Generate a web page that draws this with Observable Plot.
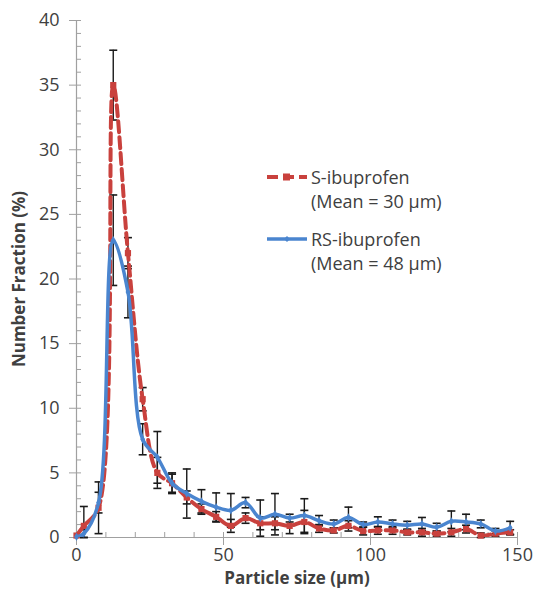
<!DOCTYPE html>
<html>
<head>
<meta charset="utf-8">
<script src="https://cdn.jsdelivr.net/npm/d3@7"></script>
<script src="https://cdn.jsdelivr.net/npm/@observablehq/plot@0.6"></script>
<style>
  body { margin: 0; background: #fff; }
  #wrap { position: relative; width: 534px; height: 593px; }
  .legend { position: absolute; left: 266px; top: 165px; font-family: "Open Sans", sans-serif; font-size: 18px; color: #404040; line-height: 24px; }
  .item { display: flex; align-items: flex-start; }
  .item + .item { margin-top: 14px; }
  .item svg { margin-top: 5px; margin-right: 3px; flex: none; }
</style>
</head>
<body>
<div id="wrap"></div>
<script>
// Particle size bin centres (μm)
const sizes = [0, 2.5, 7.5, 12.5, 17.5, 22.5, 27.5, 32.5, 37.5, 42.5, 47.5, 52.5, 57.5, 62.5, 67.5, 72.5, 77.5, 82.5, 87.5, 92.5, 97.5, 102.5, 107.5, 112.5, 117.5, 122.5, 127.5, 132.5, 137.5, 142.5, 147.5];
// S-ibuprofen number fraction (%) and error
const sValues = [0.15, 0.9, 2.3, 35.0, 22.0, 10.7, 5.0, 4.2, 3.1, 2.2, 1.6, 0.9, 1.5, 1.1, 1.1, 0.9, 1.2, 0.7, 0.55, 0.9, 0.5, 0.55, 0.55, 0.4, 0.4, 0.3, 0.4, 0.65, 0.15, 0.3, 0.4];
const sErrors = [0, 1.5, 2.0, 2.7, 1.2, 0.9, 1.2, 0.7, 0.5, 0.4, 0.4, 0.5, 0.4, 0.5, 0.5, 0.6, 0.9, 0.3, 0.2, 0.4, 0.3, 0.3, 0.3, 0.2, 0.3, 0.2, 0.3, 0.3, 0.2, 0.2, 0.2];
// RS-ibuprofen number fraction (%) and error
const rsValues = [0.05, 0.3, 2.7, 23.0, 19.0, 7.6, 6.2, 4.2, 3.4, 2.8, 2.35, 2.1, 2.7, 1.5, 1.8, 1.5, 1.7, 1.3, 1.05, 1.55, 1.0, 1.2, 1.05, 0.95, 1.05, 0.8, 1.25, 1.2, 1.05, 0.5, 0.75];
const rsErrors = [0, 0.3, 0.8, 3.5, 2.0, 1.2, 2.0, 0.8, 1.9, 0.9, 1.1, 1.3, 0.4, 1.4, 1.6, 0.3, 1.3, 0.4, 0.3, 0.8, 0.2, 0.4, 0.3, 0.3, 0.5, 0.3, 0.8, 0.6, 0.3, 0.2, 0.5];

const xTicks = [0, 50, 100, 150];
const xMinorTicks = d3.range(0, 151, 10);
const yTicks = [0, 5, 10, 15, 20, 25, 30, 35, 40];
const yMinorTicks = d3.range(0, 41, 1);

const red = "#c9413d";
const blue = "#4a85cf";

const rows = sizes.map((x, i) => ({x, s: sValues[i], se: sErrors[i], rs: rsValues[i], rse: rsErrors[i]}));
const errRows = [
  ...rows.map(d => ({x: d.x, v: d.s, e: d.se})),
  ...rows.map(d => ({x: d.x, v: d.rs, e: d.rse}))
].filter(d => d.e > 0);

const cap = {
  draw(ctx, size) {
    const r = Math.sqrt(size / Math.PI);
    ctx.moveTo(-r, 0);
    ctx.lineTo(r, 0);
  }
};

const axisColor = "#a0a0a0";
const textColor = "#404040";

const chart = Plot.plot({
  width: 534,
  height: 593,
  marginLeft: 76,
  marginRight: 17,
  marginTop: 20,
  marginBottom: 56,
  style: {fontFamily: "'Open Sans', sans-serif", background: "#fff", color: textColor, overflow: "visible"},
  x: {domain: [0, 150]},
  y: {domain: [0, 40]},
  marks: [
    // axes
    Plot.axisY(yTicks, {tickSize: 7, tickPadding: 10, fontSize: 18, stroke: axisColor, fill: textColor, label: null}),
    Plot.axisY(yMinorTicks, {tickSize: -5, text: null, stroke: axisColor, label: null}),
    Plot.axisX(xTicks, {tickSize: 8, tickPadding: 3, fontSize: 18, stroke: axisColor, fill: textColor, label: null}),
    Plot.axisX(xMinorTicks, {tickSize: -5, text: null, stroke: axisColor, label: null}),
    Plot.ruleX([0], {stroke: axisColor, strokeWidth: 1.2}),
    Plot.ruleY([0], {stroke: axisColor, strokeWidth: 1.2}),
    // error bars
    Plot.ruleX(errRows, {x: "x", y1: d => Math.max(0, d.v - d.e), y2: d => d.v + d.e, stroke: "#1a1a1a", strokeWidth: 1.4}),
    Plot.dot(errRows, {x: "x", y: d => d.v + d.e, symbol: cap, r: 4, stroke: "#1a1a1a", strokeWidth: 1.6, fill: "none"}),
    Plot.dot(errRows, {x: "x", y: d => Math.max(0, d.v - d.e), symbol: cap, r: 4, stroke: "#1a1a1a", strokeWidth: 1.6, fill: "none"}),
    // S-ibuprofen
    Plot.line(rows, {x: "x", y: "s", stroke: red, strokeWidth: 4, strokeDasharray: "11,5", curve: "catmull-rom", clip: true}),
    Plot.dot(rows, {x: "x", y: "s", symbol: "square", r: 3.5, fill: red, stroke: "none"}),
    // RS-ibuprofen
    Plot.line(rows, {x: "x", y: "rs", stroke: blue, strokeWidth: 3.5, curve: "catmull-rom", clip: true}),
    Plot.dot(rows, {x: "x", y: "rs", symbol: "diamond", r: 2.5, fill: blue, stroke: "none"}),
    // axis titles
    Plot.text(["Particle size (μm)"], {frameAnchor: "bottom", dy: 41, lineAnchor: "middle", textAnchor: "middle", fontSize: 17, fontWeight: "bold", fill: textColor}),
    Plot.text(["Number Fraction (%)"], {frameAnchor: "left", dx: -57, rotate: -90, lineAnchor: "middle", textAnchor: "middle", fontSize: 17, fontWeight: "bold", fill: textColor})
  ]
});

const wrap = document.getElementById("wrap");
wrap.appendChild(chart);

const legend = document.createElement("div");
legend.className = "legend";
legend.innerHTML = `
  <div class="item">
    <svg width="42" height="14"><line x1="1" y1="7" x2="41" y2="7" stroke="${red}" stroke-width="4" stroke-dasharray="11,5"/><rect x="17" y="3.5" width="7" height="7" fill="${red}"/></svg>
    <span>S-ibuprofen<br>(Mean = 30 μm)</span>
  </div>
  <div class="item">
    <svg width="42" height="14"><line x1="1" y1="7" x2="41" y2="7" stroke="${blue}" stroke-width="3.5"/><path d="M21,4 L24,7 L21,10 L18,7 Z" fill="${blue}"/></svg>
    <span>RS-ibuprofen<br>(Mean = 48 μm)</span>
  </div>`;
wrap.appendChild(legend);
</script>
</body>
</html>
